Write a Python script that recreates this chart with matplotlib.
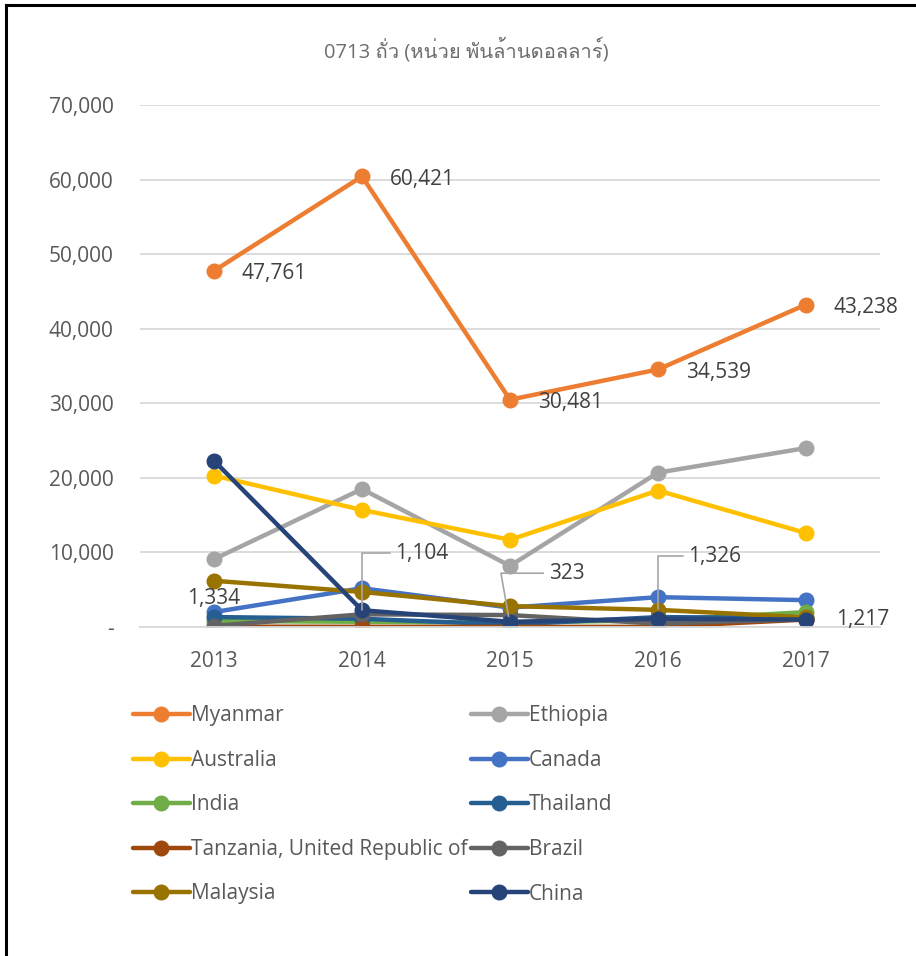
import matplotlib
matplotlib.use("Agg")
import matplotlib.pyplot as plt
from matplotlib import font_manager
from matplotlib.ft2font import FT2Font
from matplotlib.lines import Line2D

years = ["2013", "2014", "2015", "2016", "2017"]
countries = ["Myanmar", "Ethiopia", "Australia", "Canada", "India", "Thailand",
             "Tanzania, United Republic of", "Brazil", "Malaysia", "China"]
colors = ["#ED7D31", "#A5A5A5", "#FFC000", "#4472C4", "#70AD47", "#255E91",
          "#9E480E", "#636363", "#997300", "#264478"]

myanmar = [47761, 60421, 30481, 34539, 43238]
ethiopia = [9100, 18500, 8200, 20700, 24000]
australia = [20300, 15700, 11700, 18300, 12600]
canada = [2000, 5200, 2600, 4000, 3600]
india = [800, 700, 600, 900, 2000]
thailand = [1334, 1104, 323, 1326, 1217]
tanzania = [50, 30, 20, 20, 1000]
brazil = [150, 1700, 1600, 450, 1050]
malaysia = [6200, 4700, 2800, 2300, 1300]
china = [22300, 2250, 700, 1100, 1000]
series = [myanmar, ethiopia, australia, canada, india, thailand,
          tanzania, brazil, malaysia, china]

title = "0713 ถั่ว (หน่วย พันล้านดอลลาร์)"

# find a font that has Thai glyphs
thai_font = None
for f in font_manager.fontManager.ttflist:
    try:
        if 0x0E16 in FT2Font(f.fname).get_charmap():
            thai_font = f.name
            break
    except Exception:
        pass

plt.rcParams['font.family'] = ['Open Sans', 'DejaVu Sans']
grey = "#595959"
fs = 15

fig = plt.figure(figsize=(9.16, 9.56), dpi=100)
ax = fig.add_axes([140 / 916, 1 - 627 / 956, 740 / 916, 522 / 956])

x = list(range(len(years)))
handles = []
for name, vals, c in zip(countries, series, colors):
    h, = ax.plot(x, vals, color=c, lw=3.2, marker='o', ms=10.5, label=name,
                 solid_capstyle='round')
    handles.append(h)

ax.set_xlim(-0.5, 4.5)
ax.set_ylim(0, 70000)
ax.set_yticks(range(0, 70001, 10000))
ax.set_yticklabels(["-"] + [f"{v:,}" for v in range(10000, 70001, 10000)])
ax.set_xticks(x)
ax.set_xticklabels(years)
ax.tick_params(axis='y', length=0, pad=19, labelsize=fs, labelcolor=grey)
ax.tick_params(axis='x', length=0, pad=17, labelsize=fs, labelcolor=grey)
ax.grid(axis='y', color="#D9D9D9", lw=1.3)
ax.set_axisbelow(True)
for s in ax.spines.values():
    s.set_visible(False)
ax.spines['bottom'].set_visible(True)
ax.spines['bottom'].set_color("#D9D9D9")
ax.spines['bottom'].set_linewidth(1.3)

# Myanmar labels
lab_col = "#404040"
for i, v in enumerate(myanmar):
    ax.annotate(f"{v:,}", (i, v), xytext=(20, -2), textcoords='offset points',
                ha='left', va='center', fontsize=fs, color=lab_col)

# Thailand labels
ax.annotate("1,334", (0, thailand[0]), xytext=(0, 6), textcoords='offset points',
            ha='center', va='bottom', fontsize=fs, color=lab_col)
lead = dict(arrowstyle='-', color="#A6A6A6", lw=1.2, shrinkA=2, shrinkB=6)
ax.annotate("1,104", (1, thailand[1]), xytext=(24, 47), textcoords='offset points',
            ha='left', va='center', fontsize=fs, color=lab_col,
            arrowprops=dict(lead, connectionstyle='angle,angleA=0,angleB=90,rad=0'))
ax.annotate("323", (2, thailand[2]), xytext=(28, 37), textcoords='offset points',
            ha='left', va='center', fontsize=fs, color=lab_col,
            arrowprops=dict(lead, connectionstyle='angle,angleA=0,angleB=100,rad=0'))
ax.annotate("1,326", (3, thailand[3]), xytext=(22, 44), textcoords='offset points',
            ha='left', va='center', fontsize=fs, color=lab_col,
            arrowprops=dict(lead, connectionstyle='angle,angleA=0,angleB=90,rad=0'))
ax.annotate("1,217", (4, thailand[4]), xytext=(22, -1), textcoords='offset points',
            ha='left', va='center', fontsize=fs, color=lab_col)

tfam = ['Open Sans', thai_font, 'DejaVu Sans'] if thai_font else ['DejaVu Sans']
fig.text(466 / 916, 1 - 50 / 956, title, ha='center', va='center',
         fontsize=14.5, color="#6E6E6E", family=tfam)

order = handles[0::2] + handles[1::2]
leg = fig.legend(order, [h.get_label() for h in order], ncol=2,
                 loc='upper left', bbox_to_anchor=(125 / 916, 1 - 697 / 956),
                 frameon=False, fontsize=fs, labelcolor=grey,
                 handlelength=2.7, handletextpad=0.05, columnspacing=0.2,
                 labelspacing=1.13, borderaxespad=0)

# frame lines (left and top)
fig.add_artist(Line2D([6 / 916, 6 / 916], [0, 1 - 5 / 956], color='black', lw=2.2,
                      transform=fig.transFigure))
fig.add_artist(Line2D([6 / 916, 1], [1 - 5 / 956, 1 - 5 / 956], color='black', lw=2.2,
                      transform=fig.transFigure))

fig.savefig("out.png", dpi=100)
